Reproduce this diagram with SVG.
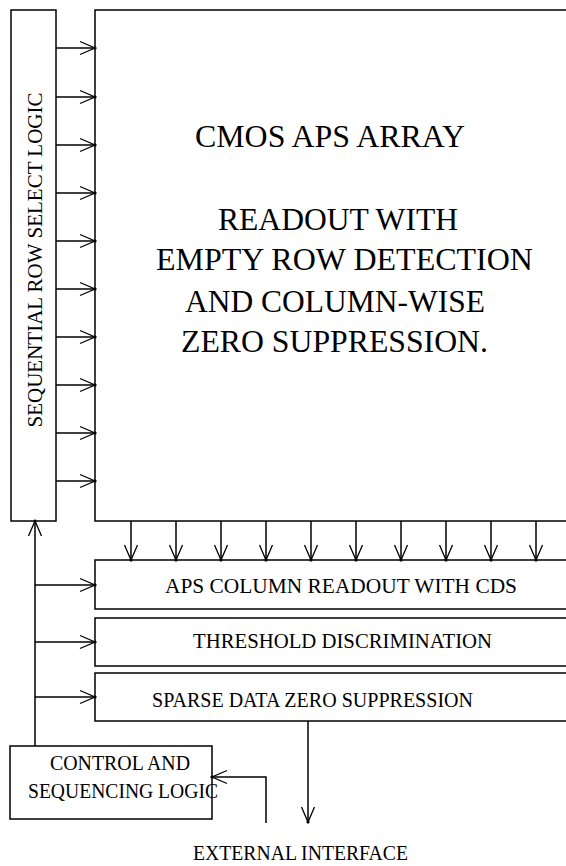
<svg xmlns="http://www.w3.org/2000/svg" width="566" height="866" viewBox="0 0 566 866">
<style>
.box{fill:#fff;stroke:#000;stroke-width:1.5}
.big{font-family:"Liberation Serif","Times New Roman",serif;font-size:31px;fill:#000}
.sm{font-family:"Liberation Serif","Times New Roman",serif;font-size:22px;fill:#000}
.ln{fill:none;stroke:#000;stroke-width:1.5}
</style>
<defs>
<marker id="ah" markerUnits="userSpaceOnUse" markerWidth="20" markerHeight="20" viewBox="-17 -10 20 20" refX="0" refY="0" orient="auto" overflow="visible">
<path d="M-15,-6.5 L0,0 L-15,6.5" fill="none" stroke="#000" stroke-width="1.3"/>
<circle r="1.6" fill="#000"/>
</marker>
</defs>
<rect width="566" height="866" fill="#fff"/>

<g id="row-select">
<rect class="box" x="11" y="10" width="45" height="511"/>
<text class="sm" font-size="22" text-anchor="middle" transform="translate(42,260) rotate(-90)" textLength="335" lengthAdjust="spacingAndGlyphs">SEQUENTIAL ROW SELECT LOGIC</text>
</g>

<g id="aps-array">
<rect class="box" x="95" y="10" width="500" height="511"/>
<text class="big" x="195" y="147" textLength="270" lengthAdjust="spacingAndGlyphs">CMOS APS ARRAY</text>
<text class="big" x="218" y="230" textLength="240" lengthAdjust="spacingAndGlyphs">READOUT WITH</text>
<text class="big" x="156" y="270" textLength="377" lengthAdjust="spacingAndGlyphs">EMPTY ROW DETECTION</text>
<text class="big" x="185" y="312" textLength="300" lengthAdjust="spacingAndGlyphs">AND COLUMN-WISE</text>
<text class="big" x="181" y="352" textLength="307" lengthAdjust="spacingAndGlyphs">ZERO SUPPRESSION.</text>
</g>

<g id="col-readout">
<rect class="box" x="95" y="560" width="500" height="49"/>
<text class="sm" x="165" y="593" textLength="352" lengthAdjust="spacingAndGlyphs">APS COLUMN READOUT WITH CDS</text>
</g>

<g id="threshold">
<rect class="box" x="95" y="618" width="500" height="48"/>
<text class="sm" x="193" y="648" textLength="299" lengthAdjust="spacingAndGlyphs">THRESHOLD DISCRIMINATION</text>
</g>

<g id="sparse">
<rect class="box" x="95" y="673" width="500" height="48"/>
<text class="sm" x="152" y="707" textLength="321" lengthAdjust="spacingAndGlyphs">SPARSE DATA ZERO SUPPRESSION</text>
</g>

<g id="control">
<rect class="box" x="10" y="746" width="202" height="73"/>
<text class="sm" x="50" y="770" textLength="140" lengthAdjust="spacingAndGlyphs">CONTROL AND</text>
<text class="sm" x="28" y="798" textLength="190" lengthAdjust="spacingAndGlyphs">SEQUENCING LOGIC</text>
</g>

<g id="external">
<text class="sm" font-size="21" x="193" y="860" textLength="215" lengthAdjust="spacingAndGlyphs">EXTERNAL INTERFACE</text>
</g>

<g id="connectors" class="ln" marker-end="url(#ah)">
<path d="M56,48H95"/>
<path d="M56,97H95"/>
<path d="M56,145H95"/>
<path d="M56,193H95"/>
<path d="M56,241H95"/>
<path d="M56,289H95"/>
<path d="M56,337H95"/>
<path d="M56,385H95"/>
<path d="M56,433H95"/>
<path d="M56,481H95"/>
<path d="M131,521V560"/>
<path d="M176,521V560"/>
<path d="M221,521V560"/>
<path d="M266,521V560"/>
<path d="M311,521V560"/>
<path d="M356,521V560"/>
<path d="M401,521V560"/>
<path d="M446,521V560"/>
<path d="M491,521V560"/>
<path d="M536,521V560"/>
<path d="M35,746V521"/>
<path d="M35,585H95"/>
<path d="M35,642H95"/>
<path d="M35,697H95"/>
<path d="M308,721V822"/>
<path d="M266,823V777H212"/>
</g>
</svg>
